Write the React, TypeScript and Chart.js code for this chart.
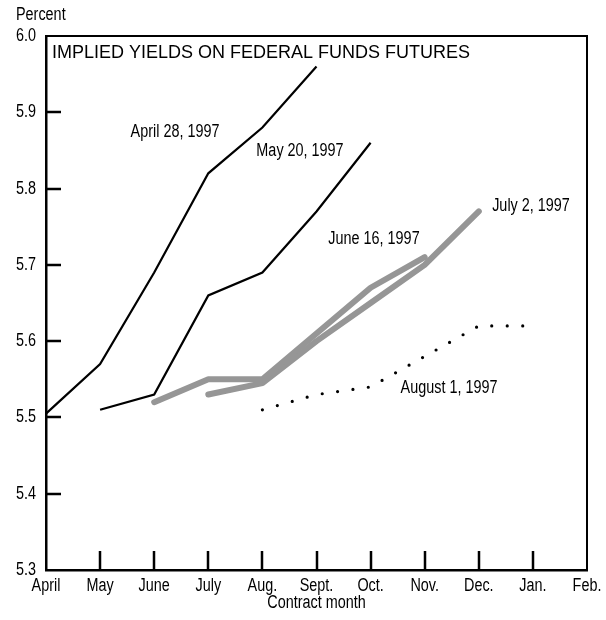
import React, { useEffect, useRef } from "react";
import { Chart, registerables } from "chart.js";

Chart.register(...registerables);

const months = ["April", "May", "June", "July", "Aug.", "Sept.", "Oct.", "Nov.", "Dec.", "Jan.", "Feb."];
const april28 = [5.505, 5.57, 5.69, 5.82, 5.88, 5.96];
const may20 = [null, 5.51, 5.53, 5.66, 5.69, 5.77, 5.86];
const june16 = [null, null, 5.52, 5.55, 5.55, 5.61, 5.67, 5.71];
const july2 = [null, null, null, 5.53, 5.545, 5.60, 5.65, 5.70, 5.77];
const aug1 = [null, null, null, null, 5.51, 5.53, 5.54, 5.58, 5.62, 5.62];
const yTicks = [5.3, 5.4, 5.5, 5.6, 5.7, 5.8, 5.9, 6.0];

const FONT = '"Liberation Sans", Arial, sans-serif';
const SQUEEZE = 0.8;

const labels = [
  { text: "April 28, 1997", x: 175, y: 132 },
  { text: "May 20, 1997", x: 300, y: 151 },
  { text: "June 16, 1997", x: 374, y: 239 },
  { text: "July 2, 1997", x: 531, y: 206 },
  { text: "August 1, 1997", x: 449, y: 388 },
];

function narrow(ctx: CanvasRenderingContext2D, text: string, x: number, y: number, align: CanvasTextAlign) {
  ctx.save();
  ctx.translate(x, y);
  ctx.scale(SQUEEZE, 1);
  ctx.textAlign = align;
  ctx.fillText(text, 0, 0);
  ctx.restore();
}

const decor = {
  id: "decor",
  afterDraw(chart: any) {
    const { ctx, chartArea, scales } = chart;
    const { left, right, top, bottom } = chartArea;
    ctx.save();
    ctx.strokeStyle = "#000";
    ctx.lineWidth = 2;
    ctx.beginPath();
    ctx.moveTo(left - 1, top);
    ctx.lineTo(right, top);
    ctx.lineTo(right, bottom + 1);
    ctx.stroke();
    // inward ticks
    ctx.lineWidth = 2.5;
    ctx.beginPath();
    yTicks.slice(1, -1).forEach((v) => {
      const py = Math.round(scales.y.getPixelForValue(v));
      ctx.moveTo(left, py);
      ctx.lineTo(left + 15, py);
    });
    for (let i = 1; i < months.length - 1; i++) {
      const px = Math.round(scales.x.getPixelForValue(i));
      ctx.moveTo(px, bottom);
      ctx.lineTo(px, bottom - 19);
    }
    ctx.stroke();

    ctx.fillStyle = "#000";
    ctx.font = `18px ${FONT}`;
    ctx.textBaseline = "middle";
    // y tick labels
    yTicks.forEach((v) => {
      narrow(ctx, v.toFixed(1), left - 10, scales.y.getPixelForValue(v), "right");
    });
    // x tick labels
    months.forEach((m, i) => {
      narrow(ctx, m, scales.x.getPixelForValue(i), bottom + 16, "center");
    });
    narrow(ctx, "Contract month", (left + right) / 2, bottom + 33, "center");
    labels.forEach((l) => narrow(ctx, l.text, l.x, l.y, "center"));
    narrow(ctx, "Percent", 16, 15, "left");
    ctx.textAlign = "left";
    ctx.fillText("IMPLIED YIELDS ON FEDERAL FUNDS FUTURES", 52, 53);
    ctx.restore();
  },
};

export default function App() {
  const ref = useRef<HTMLCanvasElement>(null);
  useEffect(() => {
    document.body.style.margin = "0";
    const black = (data: any[]) => ({
      data,
      borderColor: "#000",
      borderWidth: 2.2,
      pointRadius: 0,
      tension: 0,
    });
    const grayOuter = (data: any[]) => ({
      data,
      borderColor: "#969696",
      borderWidth: 6,
      pointRadius: 0,
      borderCapStyle: "round",
      borderJoinStyle: "round",
    });
    const grayInner = (data: any[]) => ({
      data,
      borderColor: "#c6c6c6",
      borderWidth: 3,
      pointRadius: 0,
      borderCapStyle: "round",
      borderJoinStyle: "round",
    });
    const chart = new Chart(ref.current!, {
      type: "line",
      data: {
        labels: months,
        datasets: [
          black(april28),
          black(may20),
          grayOuter(june16),
          grayInner(june16),
          grayOuter(july2),
          grayInner(july2),
          {
            data: aug1,
            borderColor: "#000",
            borderWidth: 3.2,
            pointRadius: 0,
            borderDash: [0, 15.5],
            borderCapStyle: "round",
          } as any,
        ] as any,
      },
      options: {
        animation: false,
        responsive: false,
        layout: { padding: { top: 36, right: 19, left: 0, bottom: 0 } },
        plugins: { legend: { display: false }, tooltip: { enabled: false } },
        scales: {
          x: {
            type: "category",
            offset: false,
            grid: { display: false, drawTicks: false },
            border: { display: true, color: "#000", width: 2.5 },
            ticks: { display: false, autoSkip: false },
            afterFit: (s: any) => {
              s.height = 50;
            },
          },
          y: {
            min: 5.3,
            max: 6.0,
            grid: { display: false, drawTicks: false },
            border: { display: true, color: "#000", width: 2.5 },
            ticks: { display: false, stepSize: 0.1 },
            afterFit: (s: any) => {
              s.width = 46;
            },
          },
        },
      },
      plugins: [decor],
    });
    return () => chart.destroy();
  }, []);
  return (
    <div style={{ position: "absolute", left: 0, top: 0, width: 606, height: 620, background: "#fff" }}>
      <canvas ref={ref} width={606} height={620} style={{ display: "block" }} />
    </div>
  );
}
